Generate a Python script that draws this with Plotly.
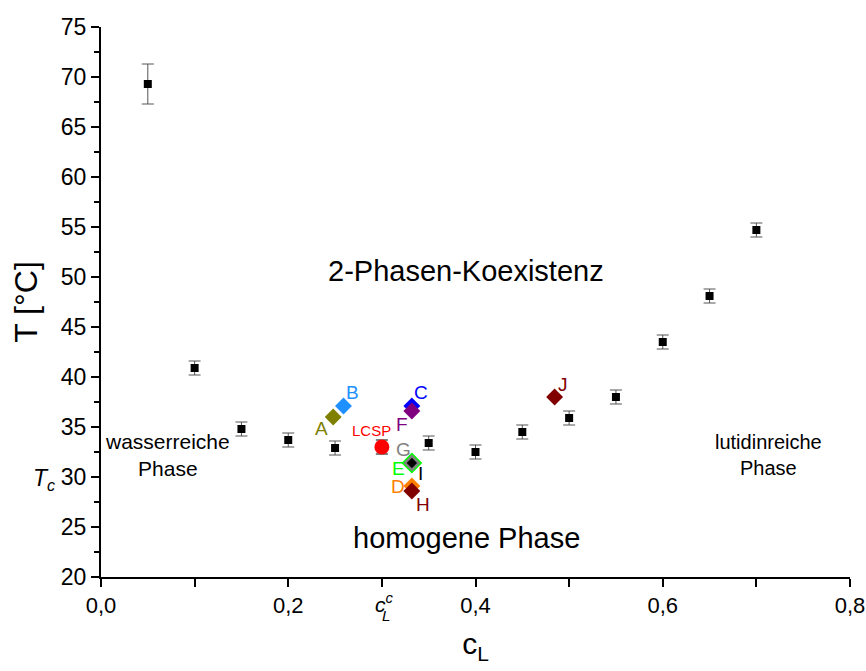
import plotly.graph_objects as go

# Coexistence curve data
cL = [0.05, 0.10, 0.15, 0.20, 0.25, 0.35, 0.40, 0.45, 0.50, 0.55, 0.60, 0.65, 0.70]
T = [69.3, 40.9, 34.8, 33.7, 32.9, 33.4, 32.5, 34.5, 35.9, 38.0, 43.5, 48.1, 54.7]
T_err = [2.0, 0.7, 0.7, 0.7, 0.7, 0.7, 0.7, 0.7, 0.7, 0.7, 0.7, 0.7, 0.7]

# Critical point
lcsp_x = [0.30]
lcsp_y = [33.0]
lcsp_err = [0.7]

# Sample points
sample_names = ["A", "B", "C", "F", "E", "G", "I", "D", "H", "J"]
sample_x = [0.248, 0.259, 0.332, 0.332, 0.332, 0.332, 0.332, 0.332, 0.332, 0.4845]
sample_y = [36.0, 37.1, 37.1, 36.6, 31.4, 31.4, 31.4, 29.1, 28.6, 38.0]
sample_colors = ["#808000", "#1E90FF", "#0000FF", "#800080", "#00FF00", "#808080",
                 "#000000", "#FF8000", "#800000", "#800000"]
sample_sizes = [13, 13, 13, 13, 16, 13, 8, 13, 13, 13]
label_dx = [-12, 9, 9, -10, -13, -8, 9, -14, 11, 8]
label_dy = [-11, 14, 14, -13, -5, 14, -10, 0, -13, 13]

x_tickvals = [0.0, 0.1, 0.2, 0.3, 0.4, 0.5, 0.6, 0.7, 0.8]
x_ticktext = ["0,0", "", "0,2", "", "0,4", "", "0,6", "", "0,8"]
y_tickvals = [20, 25, 30, 35, 40, 45, 50, 55, 60, 65, 70, 75]
y_ticktext = [str(v) for v in y_tickvals]

fig = go.Figure()

fig.add_trace(go.Scatter(
    x=cL, y=T, mode="markers",
    marker=dict(symbol="square", size=8, color="black"),
    error_y=dict(type="data", array=T_err, color="#555555", thickness=1, width=6),
    showlegend=False,
))

fig.add_trace(go.Scatter(
    x=lcsp_x, y=lcsp_y, mode="markers",
    marker=dict(symbol="circle", size=15, color="#FF0000"),
    error_y=dict(type="data", array=lcsp_err, color="#000000", thickness=1, width=6),
    showlegend=False,
))

for i, name in enumerate(sample_names):
    fig.add_trace(go.Scatter(
        x=[sample_x[i]], y=[sample_y[i]], mode="markers",
        marker=dict(symbol="diamond", size=sample_sizes[i], color=sample_colors[i],
                    line=dict(width=0)),
        showlegend=False,
    ))
    fig.add_annotation(x=sample_x[i], y=sample_y[i], text=name, showarrow=False,
                       xshift=label_dx[i], yshift=label_dy[i],
                       font=dict(size=19, color=sample_colors[i]))

fig.add_annotation(x=0.30, y=33.0, text="LCSP", showarrow=False, yshift=17, xshift=-10,
                   font=dict(size=15, color="#FF0000"))

fig.add_annotation(x=0.39, y=50.6, text="2-Phasen-Koexistenz", showarrow=False,
                   font=dict(size=29, color="black"))
fig.add_annotation(x=0.39, y=23.9, text="homogene Phase", showarrow=False,
                   font=dict(size=29, color="black"))
fig.add_annotation(x=0.071, y=32.2, text="wasserreiche<br>Phase", showarrow=False,
                   font=dict(size=21, color="black"))
fig.add_annotation(x=0.713, y=32.2, text="lutidinreiche<br>Phase", showarrow=False,
                   font=dict(size=20, color="black"))

# special tick labels
fig.add_annotation(xref="paper", x=0, y=30, text="<i>T<sub>c</sub></i>", showarrow=False,
                   xanchor="right", xshift=-44, yshift=-2, font=dict(size=23, color="black"))
fig.add_annotation(x=0.30, yref="paper", y=0, text="<i>c<sup>c</sup></i>", showarrow=False,
                   yanchor="top", yshift=-11, xshift=3, font=dict(size=21, color="black"))
fig.add_annotation(x=0.30, yref="paper", y=0, text="<i>L</i>", showarrow=False,
                   yanchor="top", yshift=-28, xshift=4, font=dict(size=15, color="black"))

fig.update_layout(
    width=866, height=671,
    margin=dict(l=101, r=16, t=27, b=94),
    plot_bgcolor="white", paper_bgcolor="white",
    font=dict(family="Liberation Sans, Arial, sans-serif", color="black"),
)
fig.update_xaxes(
    range=[0, 0.8], tickvals=x_tickvals, ticktext=x_ticktext, automargin=False,
    showgrid=False, zeroline=False, showline=True, linecolor="black", linewidth=2,
    ticks="outside", ticklen=8, tickwidth=2, tickcolor="black",
    tickfont=dict(size=22),
    title=dict(text="c<sub>L</sub>", font=dict(size=30), standoff=16),
)
fig.update_yaxes(
    range=[20, 75], tickvals=y_tickvals, ticktext=y_ticktext, automargin=False,
    showgrid=False, zeroline=False, showline=True, linecolor="black", linewidth=2,
    ticks="outside", ticklen=8, tickwidth=2, tickcolor="black",
    tickfont=dict(size=23),
    minor=dict(tickvals=[22.5, 27.5, 32.5, 37.5, 42.5, 47.5, 52.5, 57.5, 62.5, 67.5, 72.5],
               ticks="outside", ticklen=5, tickwidth=2, tickcolor="black"),
    title=dict(text="T [°C]", font=dict(size=32), standoff=14),
)

fig.write_html("out.html")
